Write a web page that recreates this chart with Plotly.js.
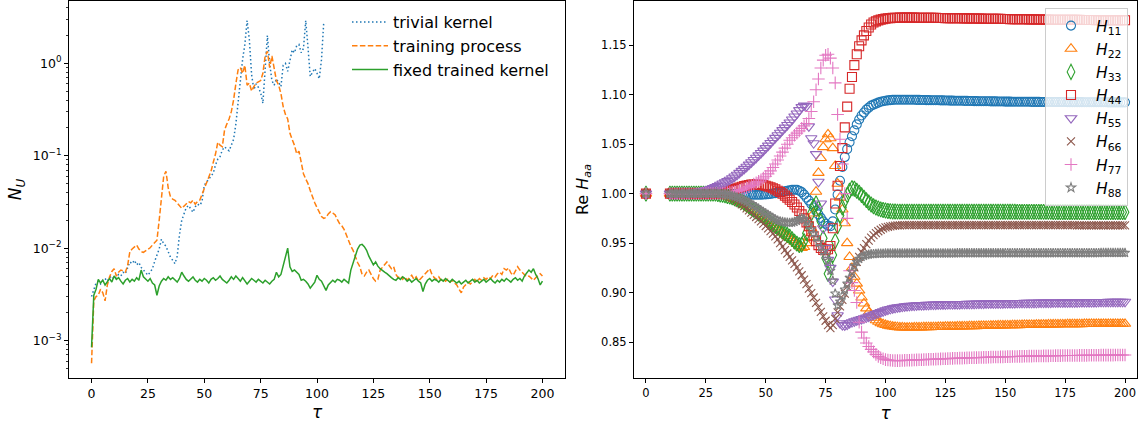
<!DOCTYPE html>
<html><head><meta charset="utf-8">
<script src="https://cdn.plot.ly/plotly-3.0.1.min.js"></script>
<style>html,body{margin:0;padding:0;background:#fff}#chart{width:1146px;height:426px}</style>
</head><body><div id="chart"></div>
<script>
// ---------- left panel: N_U vs tau ----------
const tauN = [
0,1,2,3,4,5,6,7,8,9,
10,11,12,13,14,15,16,17,18,19,
20,21,22,23,24,25,26,27,28,29,
30,31,32,33,34,35,36,37,38,39,
40,41,42,43,44,45,46,47,48,49,
50,51,52,53,54,55,56,57,58,59,
60,61,62,63,64,65,66,67,68,69,
70,71,72,73,74,75,76,77,78,79,
80,81,82,83,84,85,86,87,88,89,
90,91,92,93,94,95,96,97,98,99,
100,101,102,103,104,105,106,107,108,109,
110,111,112,113,114,115,116,117,118,119,
120,121,122,123,124,125,126,127,128,129,
130,131,132,133,134,135,136,137,138,139,
140,141,142,143,144,145,146,147,148,149,
150,151,152,153,154,155,156,157,158,159,
160,161,162,163,164,165,166,167,168,169,
170,171,172,173,174,175,176,177,178,179,
180,181,182,183,184,185,186,187,188,189,
190,191,192,193,194,195,196,197,198,199,
200];
const nuTrivial = [
0.0030,0.0035,0.0042,0.0044,0.0041,0.0045,0.0047,0.0044,0.0048,0.0050,
0.0046,0.0049,0.0052,0.0050,0.0055,0.0053,0.0060,0.0071,0.0068,0.0074,
0.0066,0.0070,0.0062,0.0058,0.0053,0.0051,0.0055,0.0060,0.0072,0.0085,
0.0098,0.0125,0.0112,0.0105,0.0092,0.0080,0.0074,0.0068,0.0082,0.0140,
0.0200,0.0240,0.0275,0.0290,0.0270,0.0245,0.0280,0.0300,0.0290,0.0320,
0.0480,0.0520,0.0560,0.0600,0.0650,0.0800,0.0920,0.0980,0.1150,0.1250,
0.1180,0.1130,0.1300,0.1500,0.2200,0.4000,0.6500,1.1000,1.6000,2.9000,
1.8000,0.7500,0.5200,0.6000,0.5500,0.4800,0.3700,0.9000,2.0000,1.0000,
0.6500,0.5800,0.6800,0.6200,0.5600,0.9500,1.0000,0.8200,1.1000,1.4000,
1.3000,1.5500,1.6000,1.3000,1.4500,2.9000,1.5000,0.7200,0.8000,0.8800,
0.7800,0.6800,1.1000,2.8000];
const nuTraining = [
0.00057,0.0027,0.0030,0.0031,0.0036,0.0033,0.0027,0.0040,0.0049,0.0056,
0.0060,0.0050,0.0055,0.0058,0.0057,0.0055,0.0065,0.0092,0.0098,0.0104,
0.0108,0.0098,0.0092,0.0090,0.0094,0.0096,0.0101,0.0108,0.0115,0.0122,
0.0200,0.0360,0.0600,0.0680,0.0450,0.0360,0.0340,0.0330,0.0310,0.0290,
0.0270,0.0285,0.0300,0.0320,0.0310,0.0330,0.0300,0.0320,0.0330,0.0380,
0.0460,0.0520,0.0600,0.0680,0.0850,0.1050,0.1400,0.1300,0.1250,0.1900,
0.2200,0.2500,0.3000,0.4000,0.6000,0.8500,0.9000,0.7800,0.9500,0.5800,
0.6100,0.5000,0.5600,0.6100,0.6300,0.6500,0.7800,1.2000,1.3500,0.9000,
1.2000,0.8500,0.6500,0.5800,0.4700,0.3400,0.2800,0.2500,0.1750,0.1500,
0.1300,0.1050,0.1120,0.0850,0.0640,0.0560,0.0500,0.0420,0.0350,0.0310,
0.0275,0.0250,0.0220,0.0210,0.0215,0.0235,0.0248,0.0240,0.0230,0.0205,
0.0185,0.0175,0.0160,0.0140,0.0120,0.0105,0.0095,0.0080,0.0070,0.0063,
0.0052,0.0050,0.0055,0.0058,0.0052,0.0047,0.0044,0.0046,0.0058,0.0062,
0.0066,0.0071,0.0065,0.0060,0.0063,0.0052,0.0048,0.0050,0.0046,0.0049,
0.0045,0.0048,0.0051,0.0046,0.0049,0.0044,0.0047,0.0050,0.0053,0.0056,
0.0060,0.0052,0.0048,0.0046,0.0049,0.0045,0.0047,0.0044,0.0046,0.0043,
0.0045,0.0042,0.0040,0.0036,0.0033,0.0038,0.0040,0.0043,0.0041,0.0044,
0.0046,0.0043,0.0047,0.0045,0.0048,0.0046,0.0049,0.0047,0.0051,0.0049,
0.0053,0.0055,0.0052,0.0060,0.0058,0.0061,0.0054,0.0051,0.0056,0.0063,
0.0058,0.0055,0.0052,0.0049,0.0050,0.0047,0.0045,0.0048,0.0051,0.0053,
0.0050];
const nuFixed = [
0.00085,0.0031,0.0036,0.0046,0.0042,0.0045,0.0040,0.0044,0.0047,0.0043,
0.0050,0.0046,0.0048,0.0044,0.0041,0.0045,0.0047,0.0043,0.0046,0.0044,
0.0048,0.0045,0.0058,0.0049,0.0046,0.0044,0.0047,0.0042,0.0040,0.0031,
0.0039,0.0044,0.0047,0.0045,0.0049,0.0046,0.0048,0.0045,0.0043,0.0047,
0.0055,0.0050,0.0046,0.0044,0.0047,0.0049,0.0045,0.0043,0.0046,0.0044,
0.0047,0.0045,0.0042,0.0046,0.0048,0.0045,0.0047,0.0050,0.0046,0.0044,
0.0042,0.0045,0.0049,0.0046,0.0050,0.0047,0.0044,0.0048,0.0045,0.0041,
0.0044,0.0047,0.0045,0.0043,0.0046,0.0044,0.0042,0.0045,0.0043,0.0041,
0.0044,0.0046,0.0055,0.0049,0.0052,0.0066,0.0078,0.0100,0.0063,0.0056,
0.0058,0.0055,0.0052,0.0045,0.0046,0.0044,0.0041,0.0037,0.0040,0.0043,
0.0051,0.0046,0.0044,0.0039,0.0035,0.0040,0.0042,0.0045,0.0043,0.0046,
0.0045,0.0043,0.0046,0.0044,0.0042,0.0058,0.0070,0.0082,0.0098,0.0108,
0.0110,0.0104,0.0095,0.0082,0.0072,0.0066,0.0071,0.0064,0.0060,0.0057,
0.0055,0.0053,0.0051,0.0048,0.0046,0.0045,0.0048,0.0046,0.0049,0.0047,
0.0044,0.0046,0.0043,0.0045,0.0047,0.0044,0.0042,0.0034,0.0041,0.0045,
0.0047,0.0044,0.0046,0.0045,0.0043,0.0046,0.0044,0.0047,0.0045,0.0043,
0.0046,0.0044,0.0042,0.0044,0.0041,0.0043,0.0045,0.0042,0.0044,0.0046,
0.0043,0.0045,0.0042,0.0044,0.0046,0.0043,0.0045,0.0047,0.0044,0.0042,
0.0045,0.0043,0.0046,0.0044,0.0047,0.0045,0.0043,0.0046,0.0048,0.0045,
0.0047,0.0044,0.0050,0.0054,0.0058,0.0055,0.0060,0.0052,0.0047,0.0040,
0.0044];
const nuTickVals = [0.001, 0.01, 0.1, 1];
const nuTickText = ['10<sup>−3</sup>','10<sup>−2</sup>','10<sup>−1</sup>','10<sup>0</sup>'];
const nuMinorVals = [0.0005,0.0006,0.0007,0.0008,0.0009,
  0.002,0.003,0.004,0.005,0.006,0.007,0.008,0.009,
  0.02,0.03,0.04,0.05,0.06,0.07,0.08,0.09,
  0.2,0.3,0.4,0.5,0.6,0.7,0.8,0.9, 2,3,4];
const tauTicks = [0,25,50,75,100,125,150,175,200];

// ---------- right panel: Re H_aa vs tau ----------
const tauH = [0,
10,11,12,13,14,15,16,17,18,19,
20,21,22,23,24,25,26,27,28,29,
30,31,32,33,34,35,36,37,38,39,
40,41,42,43,44,45,46,47,48,49,
50,51,52,53,54,55,56,57,58,59,
60,61,62,63,64,65,66,67,68,69,
70,71,72,73,74,75,76,77,78,79,
80,81,82,83,84,85,86,87,88,89,
90,91,92,93,94,95,96,97,98,99,
100,101,102,103,104,105,106,107,108,109,
110,111,112,113,114,115,116,117,118,119,
120,121,122,123,124,125,126,127,128,129,
130,131,132,133,134,135,136,137,138,139,
140,141,142,143,144,145,146,147,148,149,
150,151,152,153,154,155,156,157,158,159,
160,161,162,163,164,165,166,167,168,169,
170,171,172,173,174,175,176,177,178,179,
180,181,182,183,184,185,186,187,188,189,
190,191,192,193,194,195,196,197,198,199,
200];
const H11 = [1,
1,1,1,1,1,1,1,1,1,1,
1,1,1,1,1,1,1,1,1,1,
1.0000,1.0000,0.9999,0.9999,0.9998,0.9998,0.9997,0.9996,0.9995,0.9994,
0.9993,0.9992,0.9991,0.9990,0.9990,0.9989,0.9989,0.9989,0.9990,0.9991,
0.9993,0.9995,0.9998,1.0001,1.0005,1.0010,1.0015,1.0020,1.0025,1.0030,
1.0035,1.0038,1.0040,1.0038,1.0030,1.0015,0.9990,0.9960,0.9930,0.9895,
0.9860,0.9825,0.9790,0.9755,0.9720,0.9695,0.9675,0.9670,0.9720,0.9840,
0.9990,1.0130,1.0270,1.0370,1.0450,1.0520,1.0580,1.0640,1.0700,1.0750,
1.0790,1.0820,1.0850,1.0870,1.0890,1.0900,1.0910,1.0920,1.0930,1.0935,
1.0940,1.0943,1.0946,1.0948,1.0949,1.0950,1.0950,1.0950,1.0950,1.0950,
1.0950,1.0949,1.0949,1.0948,1.0948,1.0947,1.0947,1.0946,1.0946,1.0945,
1.0945,1.0944,1.0944,1.0943,1.0943,1.0942,1.0942,1.0941,1.0941,1.0940,
1.0940,1.0939,1.0939,1.0938,1.0938,1.0937,1.0937,1.0936,1.0936,1.0935,
1.0935,1.0934,1.0934,1.0934,1.0933,1.0933,1.0933,1.0932,1.0932,1.0932,
1.0931,1.0931,1.0931,1.0930,1.0930,1.0930,1.0930,1.0929,1.0929,1.0929,
1.0929,1.0928,1.0928,1.0928,1.0928,1.0927,1.0927,1.0927,1.0927,1.0927,
1.0926,1.0926,1.0926,1.0926,1.0926,1.0926,1.0925,1.0925,1.0925,1.0925,
1.0925,1.0925,1.0925,1.0924,1.0924,1.0924,1.0924,1.0924,1.0924,1.0924,
1.0924,1.0924,1.0924,1.0923,1.0923,1.0923,1.0923,1.0923,1.0923,1.0923,
1.0923];
const H22 = [1,
1,1,1,1,1,1,1,1,1,1,
1,1,1,1,1,1,1,1,1,1,
0.9994,0.9990,0.9985,0.9979,0.9972,0.9964,0.9955,0.9945,0.9934,0.9922,
0.9909,0.9895,0.9880,0.9864,0.9848,0.9831,0.9814,0.9796,0.9778,0.9760,
0.9742,0.9723,0.9704,0.9685,0.9666,0.9647,0.9628,0.9609,0.9590,0.9571,
0.9552,0.9533,0.9513,0.9492,0.9470,0.9450,0.9460,0.9500,0.9560,0.9650,
0.9800,1.0020,1.0210,1.0360,1.0470,1.0550,1.0600,1.0560,1.0460,1.0280,
1.0100,0.9960,0.9840,0.9700,0.9500,0.9360,0.9250,0.9160,0.9090,0.9020,
0.8950,0.8890,0.8840,0.8800,0.8770,0.8745,0.8720,0.8705,0.8690,0.8680,
0.8672,0.8665,0.8660,0.8656,0.8652,0.8650,0.8648,0.8647,0.8646,0.8646,
0.8646,0.8646,0.8647,0.8647,0.8648,0.8648,0.8649,0.8649,0.8650,0.8650,
0.8651,0.8651,0.8652,0.8652,0.8653,0.8654,0.8654,0.8655,0.8655,0.8656,
0.8657,0.8657,0.8658,0.8658,0.8659,0.8660,0.8660,0.8661,0.8661,0.8662,
0.8663,0.8663,0.8664,0.8664,0.8665,0.8666,0.8666,0.8667,0.8667,0.8668,
0.8668,0.8669,0.8669,0.8670,0.8670,0.8671,0.8671,0.8672,0.8672,0.8673,
0.8673,0.8674,0.8674,0.8675,0.8675,0.8676,0.8676,0.8676,0.8677,0.8677,
0.8678,0.8678,0.8678,0.8679,0.8679,0.8679,0.8680,0.8680,0.8680,0.8681,
0.8681,0.8681,0.8681,0.8682,0.8682,0.8682,0.8682,0.8682,0.8683,0.8683,
0.8683,0.8683,0.8683,0.8683,0.8684,0.8684,0.8684,0.8684,0.8684,0.8684,
0.8684];
const H33 = [1,
1,1,1,1,1,1,1,1,1,1,
1,1,1,1,1,1,1,1,1,1,
0.9995,0.9992,0.9988,0.9983,0.9977,0.9970,0.9962,0.9953,0.9943,0.9932,
0.9920,0.9905,0.9889,0.9872,0.9854,0.9836,0.9818,0.9800,0.9782,0.9764,
0.9746,0.9727,0.9708,0.9690,0.9672,0.9654,0.9636,0.9618,0.9600,0.9582,
0.9565,0.9540,0.9515,0.9495,0.9480,0.9485,0.9520,0.9600,0.9700,0.9800,
0.9870,0.9900,0.9850,0.9720,0.9550,0.9350,0.9190,0.9260,0.9380,0.9520,
0.9670,0.9780,0.9860,0.9930,0.9985,1.0030,1.0055,1.0050,1.0030,1.0010,
0.9985,0.9960,0.9935,0.9910,0.9890,0.9873,0.9860,0.9850,0.9841,0.9834,
0.9829,0.9825,0.9822,0.9820,0.9819,0.9818,0.9818,0.9818,0.9818,0.9818,
0.9818,0.9818,0.9818,0.9818,0.9818,0.9818,0.9818,0.9818,0.9818,0.9818,
0.9818,0.9818,0.9818,0.9818,0.9818,0.9818,0.9818,0.9818,0.9818,0.9818,
0.9818,0.9818,0.9818,0.9818,0.9818,0.9818,0.9818,0.9818,0.9818,0.9818,
0.9817,0.9817,0.9817,0.9817,0.9817,0.9817,0.9817,0.9817,0.9817,0.9817,
0.9817,0.9817,0.9817,0.9817,0.9817,0.9816,0.9816,0.9816,0.9816,0.9816,
0.9816,0.9816,0.9816,0.9816,0.9816,0.9816,0.9816,0.9816,0.9816,0.9816,
0.9815,0.9815,0.9815,0.9815,0.9815,0.9815,0.9815,0.9815,0.9815,0.9815,
0.9814,0.9814,0.9814,0.9814,0.9814,0.9814,0.9814,0.9814,0.9814,0.9814,
0.9813,0.9813,0.9813,0.9813,0.9813,0.9813,0.9813,0.9813,0.9813,0.9813,
0.9813];
const H44 = [1,
1,1,1,1,1,1,1,1,1,1,
1,1,1,1,1,1,1,1,1,1,
1.0000,1.0005,1.0010,1.0016,1.0023,1.0030,1.0038,1.0046,1.0054,1.0062,
1.0070,1.0077,1.0083,1.0088,1.0091,1.0093,1.0094,1.0093,1.0090,1.0086,
1.0080,1.0073,1.0064,1.0054,1.0043,1.0030,1.0016,1.0000,0.9980,0.9960,
0.9938,0.9915,0.9890,0.9860,0.9825,0.9790,0.9750,0.9710,0.9670,0.9620,
0.9570,0.9520,0.9480,0.9450,0.9432,0.9428,0.9438,0.9470,0.9650,0.9900,
1.0080,1.0280,1.0460,1.0670,1.0880,1.1060,1.1180,1.1300,1.1410,1.1490,
1.1550,1.1600,1.1645,1.1680,1.1710,1.1730,1.1742,1.1752,1.1760,1.1765,
1.1770,1.1773,1.1775,1.1777,1.1778,1.1779,1.1780,1.1780,1.1780,1.1780,
1.1780,1.1780,1.1780,1.1779,1.1779,1.1779,1.1778,1.1778,1.1778,1.1777,
1.1777,1.1777,1.1776,1.1776,1.1776,1.1775,1.1775,1.1775,1.1774,1.1774,
1.1774,1.1773,1.1773,1.1772,1.1772,1.1772,1.1771,1.1771,1.1771,1.1770,
1.1770,1.1769,1.1769,1.1769,1.1768,1.1768,1.1767,1.1767,1.1767,1.1766,
1.1766,1.1766,1.1765,1.1765,1.1764,1.1764,1.1764,1.1763,1.1763,1.1763,
1.1762,1.1762,1.1762,1.1761,1.1761,1.1761,1.1760,1.1760,1.1760,1.1759,
1.1759,1.1759,1.1759,1.1758,1.1758,1.1758,1.1758,1.1757,1.1757,1.1757,
1.1757,1.1757,1.1756,1.1756,1.1756,1.1756,1.1756,1.1756,1.1755,1.1755,
1.1755,1.1755,1.1755,1.1755,1.1755,1.1755,1.1755,1.1755,1.1754,1.1754,
1.1754];
const H55 = [1,
1.0000,1.0000,1.0001,1.0001,1.0002,1.0003,1.0004,1.0005,1.0006,1.0008,
1.0010,1.0013,1.0017,1.0022,1.0027,1.0033,1.0040,1.0047,1.0056,1.0066,
1.0078,1.0090,1.0102,1.0114,1.0127,1.0140,1.0156,1.0173,1.0191,1.0210,
1.0230,1.0251,1.0272,1.0294,1.0317,1.0340,1.0363,1.0387,1.0411,1.0435,
1.0460,1.0486,1.0512,1.0538,1.0564,1.0590,1.0616,1.0642,1.0668,1.0694,
1.0720,1.0750,1.0780,1.0810,1.0845,1.0875,1.0890,1.0885,1.0680,1.0560,
1.0510,1.0400,1.0120,0.9900,0.9650,0.9450,0.9330,0.9250,0.9110,0.8930,
0.8770,0.8690,0.8670,0.8668,0.8676,0.8690,0.8700,0.8710,0.8718,0.8725,
0.8732,0.8740,0.8748,0.8757,0.8766,0.8775,0.8784,0.8793,0.8802,0.8811,
0.8820,0.8828,0.8834,0.8840,0.8845,0.8850,0.8854,0.8857,0.8860,0.8863,
0.8865,0.8867,0.8869,0.8871,0.8872,0.8873,0.8874,0.8875,0.8876,0.8877,
0.8878,0.8879,0.8880,0.8880,0.8881,0.8881,0.8882,0.8882,0.8883,0.8883,
0.8884,0.8884,0.8885,0.8885,0.8886,0.8886,0.8887,0.8887,0.8888,0.8888,
0.8889,0.8889,0.8890,0.8890,0.8890,0.8891,0.8891,0.8892,0.8892,0.8892,
0.8893,0.8893,0.8893,0.8894,0.8894,0.8895,0.8895,0.8895,0.8896,0.8896,
0.8896,0.8897,0.8897,0.8897,0.8898,0.8898,0.8898,0.8899,0.8899,0.8899,
0.8900,0.8900,0.8900,0.8900,0.8901,0.8901,0.8901,0.8902,0.8902,0.8902,
0.8902,0.8903,0.8903,0.8903,0.8903,0.8904,0.8904,0.8904,0.8904,0.8905,
0.8905,0.8905,0.8905,0.8906,0.8906,0.8906,0.8906,0.8906,0.8907,0.8907,
0.8907];
const H66 = [1,
1,1,1,1,1,1,1,1,1,1,
1,1,1,1,1,1,1,1,1,1,
0.9999,0.9998,0.9994,0.9988,0.9980,0.9970,0.9958,0.9945,0.9930,0.9912,
0.9893,0.9873,0.9852,0.9830,0.9808,0.9786,0.9764,0.9742,0.9720,0.9697,
0.9673,0.9648,0.9622,0.9595,0.9567,0.9538,0.9500,0.9465,0.9430,0.9395,
0.9360,0.9325,0.9290,0.9255,0.9215,0.9175,0.9130,0.9085,0.9040,0.8995,
0.8950,0.8895,0.8850,0.8805,0.8760,0.8715,0.8670,0.8640,0.8670,0.8735,
0.8800,0.8860,0.8925,0.8990,0.9060,0.9127,0.9190,0.9255,0.9310,0.9360,
0.9410,0.9450,0.9490,0.9525,0.9555,0.9580,0.9600,0.9620,0.9635,0.9648,
0.9658,0.9665,0.9670,0.9674,0.9677,0.9679,0.9680,0.9681,0.9682,0.9682,
0.9682,0.9682,0.9682,0.9682,0.9682,0.9682,0.9682,0.9682,0.9682,0.9682,
0.9682,0.9682,0.9682,0.9682,0.9682,0.9682,0.9682,0.9682,0.9682,0.9682,
0.9682,0.9682,0.9682,0.9682,0.9682,0.9682,0.9682,0.9682,0.9682,0.9682,
0.9682,0.9682,0.9682,0.9682,0.9682,0.9682,0.9682,0.9682,0.9682,0.9682,
0.9681,0.9681,0.9681,0.9681,0.9681,0.9681,0.9681,0.9681,0.9681,0.9681,
0.9681,0.9681,0.9681,0.9681,0.9681,0.9681,0.9681,0.9681,0.9681,0.9681,
0.9681,0.9681,0.9681,0.9681,0.9681,0.9681,0.9681,0.9681,0.9681,0.9681,
0.9680,0.9680,0.9680,0.9680,0.9680,0.9680,0.9680,0.9680,0.9680,0.9680,
0.9680,0.9680,0.9680,0.9680,0.9680,0.9680,0.9680,0.9680,0.9680,0.9680,
0.9680];
const H77 = [1,
1,1,1,1,1,1,1,1,1,1,
1,1,1,1,1,1,1,1,1,1,
1.0000,1.0001,1.0003,1.0005,1.0008,1.0011,1.0015,1.0020,1.0026,1.0033,
1.0041,1.0050,1.0060,1.0071,1.0083,1.0096,1.0110,1.0125,1.0141,1.0158,
1.0176,1.0200,1.0230,1.0265,1.0300,1.0340,1.0380,1.0420,1.0460,1.0500,
1.0540,1.0565,1.0590,1.0612,1.0635,1.0660,1.0685,1.0710,1.0760,1.0830,
1.0930,1.1050,1.1160,1.1270,1.1350,1.1400,1.1410,1.1370,1.1270,1.1120,
1.0800,1.0550,1.0300,1.0000,0.9750,0.9220,0.9100,0.9020,0.8900,0.8700,
0.8600,0.8540,0.8490,0.8455,0.8425,0.8400,0.8375,0.8355,0.8340,0.8330,
0.8322,0.8318,0.8315,0.8313,0.8312,0.8312,0.8312,0.8313,0.8314,0.8315,
0.8316,0.8317,0.8318,0.8319,0.8320,0.8321,0.8322,0.8323,0.8324,0.8325,
0.8326,0.8327,0.8328,0.8329,0.8330,0.8331,0.8332,0.8333,0.8334,0.8335,
0.8336,0.8337,0.8337,0.8338,0.8339,0.8340,0.8341,0.8342,0.8342,0.8343,
0.8344,0.8345,0.8345,0.8346,0.8347,0.8348,0.8348,0.8349,0.8350,0.8350,
0.8351,0.8352,0.8352,0.8353,0.8353,0.8354,0.8355,0.8355,0.8356,0.8356,
0.8357,0.8357,0.8358,0.8358,0.8359,0.8359,0.8360,0.8360,0.8360,0.8361,
0.8361,0.8362,0.8362,0.8362,0.8363,0.8363,0.8363,0.8364,0.8364,0.8364,
0.8364,0.8365,0.8365,0.8365,0.8365,0.8366,0.8366,0.8366,0.8366,0.8366,
0.8367,0.8367,0.8367,0.8367,0.8367,0.8367,0.8368,0.8368,0.8368,0.8368,
0.8368];
const H88 = [1,
1,1,1,1,1,1,1,1,1,1,
1,1,1,1,1,1,1,1,1,1,
1.0000,0.9999,0.9997,0.9994,0.9990,0.9985,0.9979,0.9972,0.9964,0.9955,
0.9945,0.9934,0.9922,0.9909,0.9895,0.9880,0.9864,0.9848,0.9832,0.9816,
0.9800,0.9785,0.9770,0.9755,0.9740,0.9728,0.9720,0.9714,0.9710,0.9707,
0.9705,0.9708,0.9715,0.9725,0.9740,0.9750,0.9742,0.9715,0.9680,0.9640,
0.9600,0.9560,0.9510,0.9460,0.9420,0.9380,0.9320,0.9220,0.9120,0.8990,
0.8870,0.8910,0.8970,0.9030,0.9090,0.9150,0.9210,0.9270,0.9310,0.9340,
0.9360,0.9372,0.9380,0.9385,0.9388,0.9390,0.9392,0.9393,0.9394,0.9395,
0.9396,0.9396,0.9396,0.9396,0.9396,0.9396,0.9396,0.9396,0.9396,0.9396,
0.9397,0.9397,0.9397,0.9397,0.9397,0.9397,0.9397,0.9397,0.9397,0.9397,
0.9397,0.9397,0.9397,0.9397,0.9397,0.9397,0.9397,0.9397,0.9397,0.9397,
0.9398,0.9398,0.9398,0.9398,0.9398,0.9398,0.9398,0.9398,0.9398,0.9398,
0.9398,0.9398,0.9398,0.9398,0.9398,0.9398,0.9398,0.9398,0.9398,0.9398,
0.9399,0.9399,0.9399,0.9399,0.9399,0.9399,0.9399,0.9399,0.9399,0.9399,
0.9399,0.9399,0.9399,0.9399,0.9399,0.9399,0.9399,0.9399,0.9399,0.9399,
0.9400,0.9400,0.9400,0.9400,0.9400,0.9400,0.9400,0.9400,0.9400,0.9400,
0.9400,0.9400,0.9400,0.9400,0.9400,0.9400,0.9400,0.9400,0.9400,0.9400,
0.9401,0.9401,0.9401,0.9401,0.9401,0.9401,0.9401,0.9401,0.9401,0.9401,
0.9401];
const hTickVals = [0.85, 0.90, 0.95, 1.00, 1.05, 1.10, 1.15];
const hTickText = ['0.85','0.90','0.95','1.00','1.05','1.10','1.15'];

const seriesN = [
  {name: 'trivial kernel', y: nuTrivial, color: '#1f77b4', dash: '1.5px,2.5px'},
  {name: 'training process', y: nuTraining, color: '#ff7f0e', dash: '5.5px,2.4px'},
  {name: 'fixed trained kernel', y: nuFixed, color: '#2ca02c', dash: 'solid'}
];
const seriesH = [
  {name: '<i>H</i><sub>11</sub>', y: H11, color: '#1f77b4', symbol: 'circle-open', size: 9},
  {name: '<i>H</i><sub>22</sub>', y: H22, color: '#ff7f0e', symbol: 'triangle-up-open', size: 10},
  {name: '<i>H</i><sub>33</sub>', y: H33, color: '#2ca02c', symbol: 'diamond-tall-open', size: 11},
  {name: '<i>H</i><sub>44</sub>', y: H44, color: '#d62728', symbol: 'square-open', size: 9},
  {name: '<i>H</i><sub>55</sub>', y: H55, color: '#9467bd', symbol: 'triangle-down-open', size: 10},
  {name: '<i>H</i><sub>66</sub>', y: H66, color: '#8c564b', symbol: 'x-thin-open', size: 8},
  {name: '<i>H</i><sub>77</sub>', y: H77, color: '#e377c2', symbol: 'cross-thin-open', size: 9},
  {name: '<i>H</i><sub>88</sub>', y: H88, color: '#7f7f7f', symbol: 'star-open', size: 7}
];

const traces = [];
seriesN.forEach(s => traces.push({
  type: 'scatter', mode: 'lines', name: s.name,
  x: tauN.slice(0, s.y.length), y: s.y,
  line: {color: s.color, width: 1.5, dash: s.dash},
  xaxis: 'x', yaxis: 'y', legend: 'legend', hoverinfo: 'skip'
}));
seriesH.forEach(s => traces.push({
  type: 'scatter', mode: 'markers', name: s.name,
  x: tauH, y: s.y,
  marker: {symbol: s.symbol, size: s.size, color: s.color, line: {color: s.color, width: 1.1}},
  xaxis: 'x2', yaxis: 'y2', legend: 'legend2', hoverinfo: 'skip'
}));

const axBase = {
  showline: true, mirror: true, linecolor: 'black', linewidth: 1,
  showgrid: false, zeroline: false, ticks: 'outside', ticklen: 4,
  tickcolor: 'black', tickwidth: 1
};
const PL = 69, PR = 9, PT = 1, PB = 48, W = 1146, H = 426;
const pw = W - PL - PR;
const ph = H - PT - PB;
const xdom1 = [0, (565 - PL) / pw];
const xdom2 = [(634 - PL) / pw, 1];

const layout = {
  width: W, height: H,
  margin: {l: PL, r: PR, t: PT, b: PB, pad: 0},
  paper_bgcolor: 'white', plot_bgcolor: 'white',
  font: {family: 'DejaVu Sans', color: 'black', size: 12},
  showlegend: true,
  xaxis: Object.assign({}, axBase, {
    domain: xdom1, range: [-10, 210], tickvals: tauTicks, ticktext: tauTicks.map(String),
    tickfont: {size: 12.5}, anchor: 'y',
    title: {text: '<i>τ</i>', font: {size: 17}, standoff: 6}
  }),
  yaxis: Object.assign({}, axBase, {
    type: 'log', range: [-3.404, 0.674], tickvals: nuTickVals, ticktext: nuTickText,
    tickfont: {size: 12.5}, anchor: 'x',
    minor: {tickvals: nuMinorVals, ticks: 'outside', ticklen: 2.5, tickcolor: 'black', tickwidth: 0.8, showgrid: false},
    title: {text: '<i>N</i><sub><i>U</i></sub>', font: {size: 17}, standoff: 6}
  }),
  xaxis2: Object.assign({}, axBase, {
    domain: xdom2, range: [-5, 205], tickvals: tauTicks, ticktext: tauTicks.map(String),
    tickfont: {size: 11.5}, anchor: 'y2',
    title: {text: '<i>τ</i>', font: {size: 17}, standoff: 8}
  }),
  yaxis2: Object.assign({}, axBase, {
    range: [0.8136, 1.1948], tickvals: hTickVals, ticktext: hTickText,
    tickfont: {size: 11.5}, anchor: 'x2',
    title: {text: 'Re <i>H</i><sub><i>aa</i></sub>', font: {size: 16}, standoff: 8}
  }),
  legend: {
    x: (347 - PL) / pw, y: 1 - (5 - PT) / ph, xanchor: 'left', yanchor: 'top',
    bgcolor: 'rgba(0,0,0,0)', borderwidth: 0, font: {size: 16}, tracegroupgap: 0,
    itemwidth: 36
  },
  legend2: {
    x: (1045 - PL) / pw, y: 1 - (8 - PT) / ph, xanchor: 'left', yanchor: 'top',
    bgcolor: 'rgba(255,255,255,0.8)', bordercolor: '#cccccc', borderwidth: 1,
    font: {size: 15.5}, tracegroupgap: 0, itemwidth: 40
  }
};

Plotly.newPlot('chart', traces, layout, {displayModeBar: false, staticPlot: true});
</script>
</body></html>
